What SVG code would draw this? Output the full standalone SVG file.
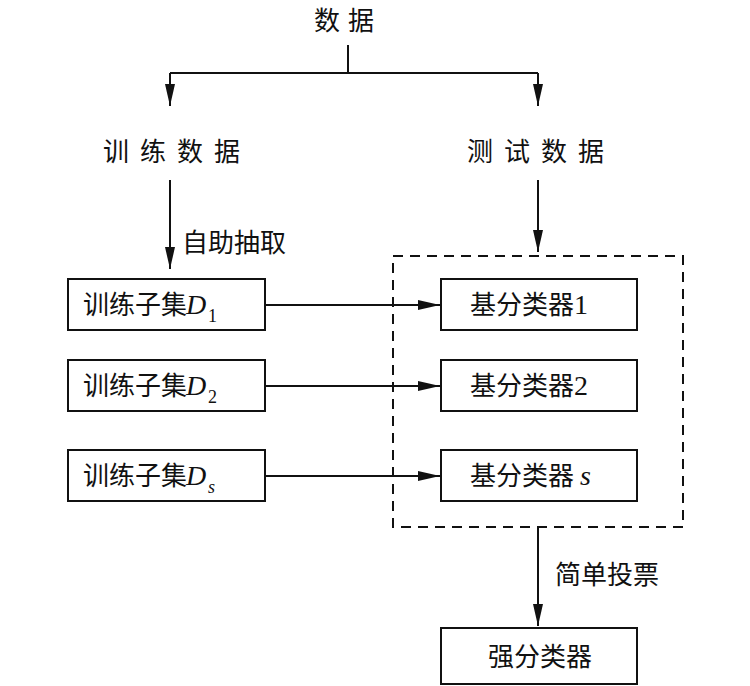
<svg xmlns="http://www.w3.org/2000/svg" width="750" height="686" viewBox="0 0 750 686">
<style>
.cn{font-family:"Noto Sans CJK SC","Noto Sans",sans-serif;font-size:26px;fill:#111}
.it{font-family:"Liberation Serif",serif;font-style:italic;font-size:28px;fill:#111}
.sub{font-family:"Liberation Serif",serif;font-size:18px;fill:#111}
.num{font-family:"Liberation Serif",serif;font-size:28px;fill:#111}
.box{fill:#fff;stroke:#111;stroke-width:2}
.ln{fill:none;stroke:#111;stroke-width:2}
</style>
<defs>
<marker id="ahv" markerWidth="22" markerHeight="10" viewBox="0 0 22 10" refX="22" refY="5" orient="auto" markerUnits="userSpaceOnUse">
<path d="M0,0 L22,5 L0,10 Z" fill="#111"/>
</marker>
</defs>
<g id="connectors">
<path class="ln" d="M348,45 V73"/>
<path class="ln" d="M170,73 H538"/>
<path class="ln" d="M170,73 V106" marker-end="url(#ahv)"/>
<path class="ln" d="M538,73 V106" marker-end="url(#ahv)"/>
<path class="ln" d="M170,180 V269" marker-end="url(#ahv)"/>
<path class="ln" d="M538,180 V252" marker-end="url(#ahv)"/>
<path class="ln" d="M265,305 H440" marker-end="url(#ahv)"/>
<path class="ln" d="M265,386 H440" marker-end="url(#ahv)"/>
<path class="ln" d="M265,476 H440" marker-end="url(#ahv)"/>
<path class="ln" d="M538,527 V626" marker-end="url(#ahv)"/>
<text class="cn" x="182" y="252">自助抽取</text>
<text class="cn" x="555" y="584">简单投票</text>
</g>
<g id="data"><text class="cn" x="348" y="30" text-anchor="middle" letter-spacing="8">数据</text></g>
<g id="train"><text class="cn" x="103" y="161" letter-spacing="11">训练数据</text></g>
<g id="test"><text class="cn" x="467" y="161" letter-spacing="11">测试数据</text></g>
<g id="ensemble"><rect x="393" y="256" width="290" height="271" fill="none" stroke="#111" stroke-width="2" stroke-dasharray="10,7"/></g>
<g id="d1"><rect class="box" x="68" y="279" width="197" height="51"/><text class="cn" x="83" y="314">训练子集</text><text class="it" x="186" y="314">D</text><text class="sub" x="208" y="322">1</text></g>
<g id="d2"><rect class="box" x="68" y="360" width="197" height="51"/><text class="cn" x="83" y="395">训练子集</text><text class="it" x="186" y="395">D</text><text class="sub" x="208" y="403">2</text></g>
<g id="ds"><rect class="box" x="68" y="450" width="197" height="51"/><text class="cn" x="83" y="485">训练子集</text><text class="it" x="186" y="485">D</text><text class="sub" x="208" y="493" font-style="italic">s</text></g>
<g id="c1"><rect class="box" x="441" y="279" width="196" height="51"/><text class="cn" x="470" y="314">基分类器</text><text class="num" x="574" y="314">1</text></g>
<g id="c2"><rect class="box" x="441" y="360" width="196" height="51"/><text class="cn" x="470" y="395">基分类器</text><text class="num" x="574" y="395">2</text></g>
<g id="cs"><rect class="box" x="441" y="450" width="196" height="51"/><text class="cn" x="470" y="485">基分类器</text><text class="it" x="580" y="485">s</text></g>
<g id="strong"><rect class="box" x="441" y="628" width="196" height="56"/><text class="cn" x="488" y="666">强分类器</text></g>
</svg>
